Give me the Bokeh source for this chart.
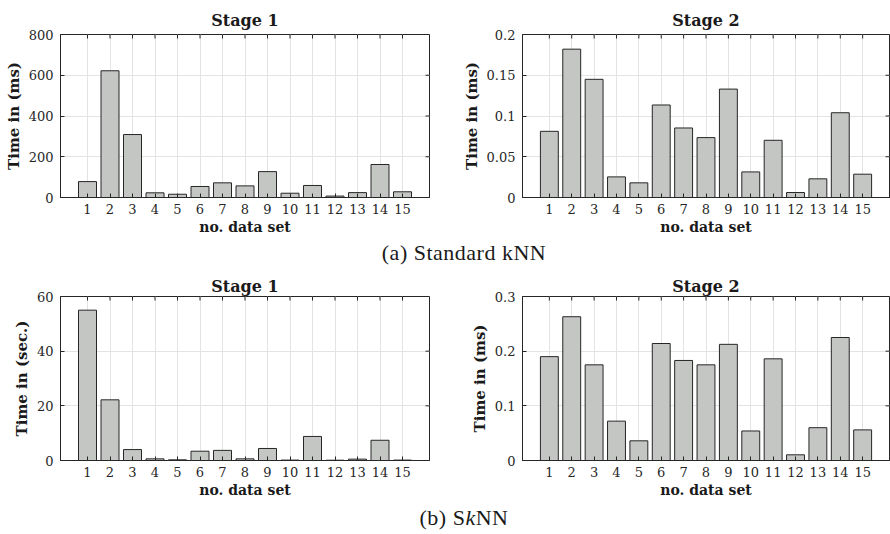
from bokeh.plotting import figure
from bokeh.layouts import column, row
from bokeh.models import Range1d, FixedTicker, Div, ColumnDataSource
from bokeh.embed import file_html
from bokeh.resources import INLINE

datasets = list(range(1, 16))

knn_stage1 = [78, 622, 309, 23, 16, 54, 72, 57, 127, 21, 59, 7, 24, 162, 28]
knn_stage2 = [0.0812, 0.182, 0.145, 0.0253, 0.018, 0.1135, 0.0853, 0.0735, 0.133,
              0.0314, 0.0702, 0.0061, 0.0229, 0.104, 0.0286]
sknn_stage1 = [55.0, 22.2, 4.0, 0.6, 0.25, 3.4, 3.7, 0.6, 4.4, 0.15, 8.8, 0.1, 0.5, 7.4, 0.15]
sknn_stage2 = [0.190, 0.263, 0.175, 0.072, 0.036, 0.214, 0.183, 0.175, 0.2125,
               0.054, 0.186, 0.0104, 0.060, 0.225, 0.056]

yt_knn1 = [0, 200, 400, 600, 800]
yl_knn1 = ["0", "200", "400", "600", "800"]
yt_knn2 = [0, 0.05, 0.1, 0.15, 0.2]
yl_knn2 = ["0", "0.05", "0.1", "0.15", "0.2"]
yt_sknn1 = [0, 20, 40, 60]
yl_sknn1 = ["0", "20", "40", "60"]
yt_sknn2 = [0, 0.1, 0.2, 0.3]
yl_sknn2 = ["0", "0.1", "0.2", "0.3"]

titles = ["Stage 1", "Stage 2", "Stage 1", "Stage 2"]
ylabels = ["Time in (ms)", "Time in (ms)", "Time in (sec.)", "Time in (ms)"]
xlabel = "no. data set"
captions = ["(a) Standard kNN", "(b) S<i>k</i>NN"]

SERIF = "DejaVu Serif"
X0, X1 = -0.2, 16.2


def panel(vals, yt, yl, title, ylabel, w, h, bl, br, bt, bb, tstand):
    p = figure(width=w, height=h, output_backend="svg", toolbar_location=None,
               x_range=Range1d(X0, X1), y_range=Range1d(yt[0], yt[-1]),
               min_border_left=bl, min_border_right=br, min_border_top=bt,
               min_border_bottom=bb, background_fill_color="white",
               border_fill_color="white", outline_line_color="#262626",
               outline_line_width=1, margin=(0, 0, 0, 0))
    fw = w - bl - br
    fh = h - bt - bb
    ux = (X1 - X0) / fw
    uy = (yt[-1] - yt[0]) / fh
    src = ColumnDataSource(dict(x=datasets, top=vals))
    p.vbar(x="x", top="top", width=0.8, bottom=0, source=src,
           fill_color="#c4c6c4", line_color="#262626", line_width=1)
    # inward ticks on top and right edges (box on)
    p.segment(x0=datasets, x1=datasets, y0=[yt[-1]] * 15, y1=[yt[-1] - 4 * uy] * 15,
              line_color="#262626", line_width=1)
    p.segment(x0=[X1] * len(yt), x1=[X1 - 4 * ux] * len(yt), y0=yt, y1=yt,
              line_color="#262626", line_width=1)
    p.title.text = title
    p.title.align = "center"
    p.title.text_font = SERIF
    p.title.text_font_style = "bold"
    p.title.text_font_size = "16px"
    p.title.text_color = "#1a1a1a"
    p.title.standoff = tstand
    p.xaxis.ticker = FixedTicker(ticks=datasets)
    p.yaxis.ticker = FixedTicker(ticks=yt)
    p.yaxis.major_label_overrides = {v: s for v, s in zip(yt, yl)}
    for ax in (p.xaxis[0], p.yaxis[0]):
        ax.axis_line_color = "#262626"
        ax.major_tick_line_color = "#262626"
        ax.major_tick_in = 4
        ax.major_tick_out = 0
        ax.minor_tick_line_color = None
        ax.major_label_text_font = SERIF
        ax.major_label_text_font_size = "13px"
        ax.major_label_text_color = "#262626"
        ax.axis_label_text_font = SERIF
        ax.axis_label_text_font_style = "bold"
        ax.axis_label_text_font_size = "14px"
        ax.axis_label_text_color = "#1a1a1a"
    p.yaxis.axis_label_text_font_size = "15px"
    p.xaxis.axis_label = xlabel
    p.yaxis.axis_label = ylabel
    p.xaxis.major_label_standoff = 6
    p.xaxis.axis_label_standoff = 2
    p.yaxis.major_label_standoff = 7
    p.yaxis.axis_label_standoff = 3
    p.xgrid.grid_line_color = "#e3e3e3"
    p.ygrid.grid_line_color = "#e3e3e3"
    return p


p1 = panel(knn_stage1, yt_knn1, yl_knn1, titles[0], ylabels[0], 445, 240, 60, 16, 34, 43, 9)
p2 = panel(knn_stage2, yt_knn2, yl_knn2, titles[1], ylabels[1], 445, 240, 77, 1, 34, 43, 9)
p3 = panel(sknn_stage1, yt_sknn1, yl_sknn1, titles[2], ylabels[2], 445, 235, 60, 16, 26, 45, 2)
p4 = panel(sknn_stage2, yt_sknn2, yl_sknn2, titles[3], ylabels[3], 445, 235, 77, 1, 26, 45, 2)


def cap(txt, h):
    return Div(text=('<div style="width:890px;box-sizing:border-box;padding-left:38px;'
                     'text-align:center;font-family:\'Liberation Serif\';'
                     'font-size:22px;line-height:24px;letter-spacing:0.5px;color:#1a1a1a;'
                     'padding-top:1px">' + txt + '</div>'),
               width=890, height=h, margin=(0, 0, 0, 0))


layout = column(row(p1, p2, spacing=0), cap(captions[0], 30), row(p3, p4, spacing=0),
                cap(captions[1], 29), spacing=0)

open("out.html", "w").write(file_html(layout, INLINE))
